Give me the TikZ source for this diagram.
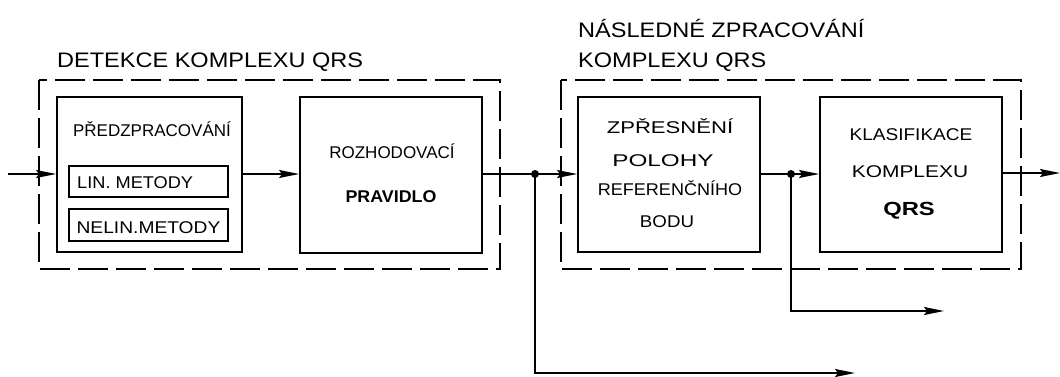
\documentclass[tikz,border=0pt]{standalone}
\usepackage{fontspec}
\setmainfont{Liberation Sans}
\usetikzlibrary{arrows.meta}
\newcommand\myhs[2]{\scalebox{#1}[1]{#2}}
\begin{document}
\begin{tikzpicture}[x=1pt,y=-1pt,
  blk/.style={draw,line width=1.9pt,inner sep=0pt},
  grp/.style={draw,line width=1.9pt,dash pattern=on 30pt off 8pt},
  con/.style={line width=1.6pt},
  arr/.style={con,-{Stealth[length=20pt,width=8pt,inset=3pt]}},
  lbl/.style={font=\fontsize{21}{24}\selectfont,anchor=base west,inner sep=0pt},
  txt/.style={font=\fontsize{17}{20}\selectfont,anchor=base,inner sep=0pt},
  dot/.style={circle,fill,inner sep=0pt,minimum size=8pt}]
\useasboundingbox (0,0) rectangle (1060,377);
% groups
\draw[grp] (39,80) rectangle (500,269);
\draw[grp] (561,80) rectangle (1021,269);
\node[lbl] (t1) at (57,68) {\myhs{1.12}{DETEKCE KOMPLEXU QRS}};
\node[lbl] (t2) at (578,38) {\myhs{1.12}{NÁSLEDNÉ ZPRACOVÁNÍ}};
\node[lbl] (t3) at (578,68) {\myhs{1.12}{KOMPLEXU QRS}};
% blocks
\node[blk,minimum width=185pt,minimum height=155pt] (pre) at (149.5,174.5) {};
\node[txt] (pret) at (152,137) {PŘEDZPRACOVÁNÍ};
\node[blk,line width=1.7pt,minimum width=159pt,minimum height=31pt] (lin) at (148.5,181.5) {};
\node[txt,anchor=base west] (lint) at (77,188) {\myhs{1.07}{LIN. METODY}};
\node[blk,line width=1.7pt,minimum width=159pt,minimum height=32pt] (nelin) at (148.5,225) {};
\node[txt] (nelint) at (148.5,233) {\myhs{1.13}{NELIN.METODY}};
\node[blk,minimum width=182pt,minimum height=156pt] (roz) at (391,175) {};
\node[txt] (rozt1) at (392,158) {ROZHODOVACÍ};
\node[txt,font=\fontsize{17}{20}\selectfont\bfseries] (rozt2) at (391,202) {\myhs{1.05}{PRAVIDLO}};
\node[blk,minimum width=182pt,minimum height=155pt] (zpr) at (669,174.5) {};
\node[txt] (z1) at (670,134) {\myhs{1.3}{ZPŘESNĚNÍ}};
\node[txt] (z2) at (663,167) {\myhs{1.43}{POLOHY}};
\node[txt] (z3) at (670,195) {\myhs{1.06}{REFERENČNÍHO}};
\node[txt] (z4) at (667,227) {\myhs{1.1}{BODU}};
\node[blk,minimum width=182pt,minimum height=155pt] (kla) at (911,174.5) {};
\node[txt] (k1) at (911,141) {\myhs{1.12}{KLASIFIKACE}};
\node[txt] (k2) at (910,178) {\myhs{1.23}{KOMPLEXU}};
\node[txt,font=\fontsize{19}{22}\selectfont\bfseries] (k3) at (909,215) {\myhs{1.25}{QRS}};
% connectors
\coordinate (in) at (8,174);
\coordinate (j1) at (535,174);
\coordinate (j2) at (791,174);
\coordinate (out) at (1060,173);
\coordinate (b1) at (535,373);
\coordinate (e1) at (855,373);
\coordinate (b2) at (791,311);
\coordinate (e2) at (944,311);
\draw[arr] (in) -- (pre.west |- in);
\draw[arr] (pre.east |- j1) -- (roz.west |- j1);
\draw[con] (roz.east |- j1) -- (j1);
\draw[arr] (j1) -- (zpr.west |- j1);
\draw[con] (zpr.east |- j2) -- (j2);
\draw[arr] (j2) -- (kla.west |- j2);
\draw[arr] (kla.east |- out) -- (out);
\draw[arr] (j1) -- (b1) -- (e1);
\draw[arr] (j2) -- (b2) -- (e2);
\node[dot] (d1) at (j1) {};
\node[dot] (d2) at (j2) {};
\end{tikzpicture}
\end{document}
